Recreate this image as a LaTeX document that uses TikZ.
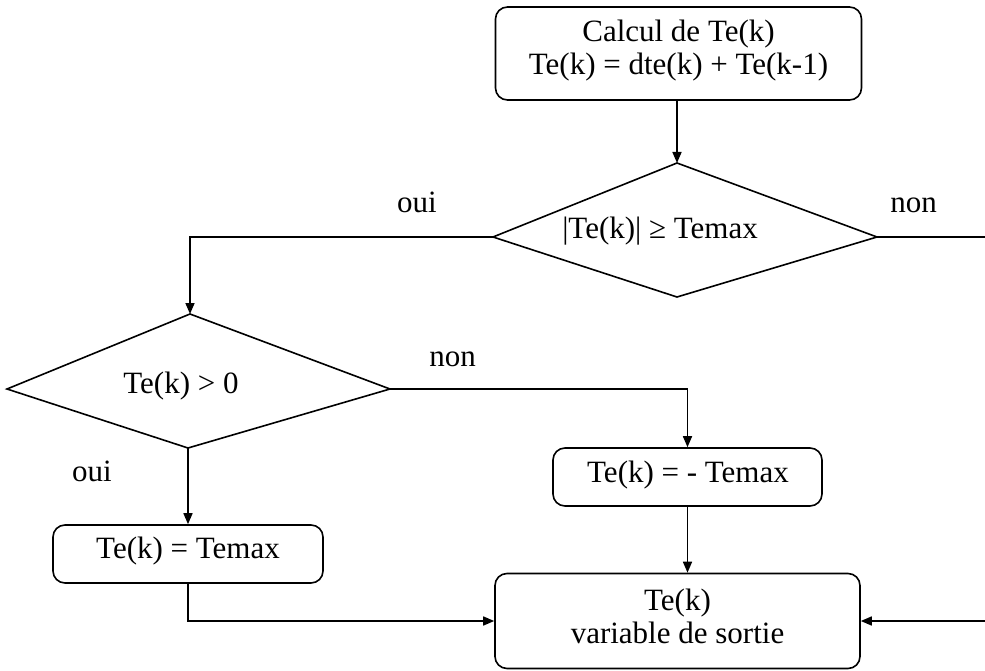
\documentclass[tikz,border=0pt]{standalone}
\usepackage{fontspec}
\setmainfont{Liberation Serif}
\usetikzlibrary{arrows.meta}
\begin{document}
\begin{tikzpicture}[x=1pt,y=-1pt,
  box/.style={draw, line width=1.6pt, rounded corners=12pt, inner sep=0pt},
  txt/.style={font=\fontsize{31}{33}\selectfont, inner sep=0pt, align=center},
  conn/.style={line width=1.6pt},
  arr/.style={conn, -{Triangle[length=11pt,width=9pt]}},
  diam/.style={draw, line width=1.6pt, line join=miter}]
\useasboundingbox (0,0) rectangle (985,671);

% boxes
\node[box, minimum width=366pt, minimum height=93pt] (b1) at (678.5,53.5) {};
\node[txt, anchor=north] (t1) at (678.5,20) {Calcul de Te(k)\\Te(k) = dte(k) + Te(k-1)};

\node[box, minimum width=270pt, minimum height=58pt] (b2) at (188,554) {};
\node[txt, anchor=base] (t2) at (188,558) {Te(k) = Temax};

\node[box, minimum width=269pt, minimum height=58pt] (b3) at (687.5,477) {};
\node[txt, anchor=base] (t3) at (688,482) {Te(k) = - Temax};

\node[box, minimum width=365pt, minimum height=95pt] (b4) at (677.5,621) {};
\node[txt, anchor=north] (t4) at (677.5,589) {Te(k)\\variable de sortie};

% diamond 1
\coordinate (d1t) at (677,163);
\coordinate (d1r) at (877,237);
\coordinate (d1b) at (677,297);
\coordinate (d1l) at (493,237);
\draw[diam] (d1t) -- (d1r) -- (d1b) -- (d1l) -- cycle;
\node[txt, anchor=base] (t5) at (660,239) {|Te(k)| ≥ Temax};

% diamond 2
\coordinate (d2t) at (190,314);
\coordinate (d2r) at (390,389);
\coordinate (d2b) at (188,448);
\coordinate (d2l) at (7,389);
\draw[diam] (d2t) -- (d2r) -- (d2b) -- (d2l) -- cycle;
\node[txt, anchor=base] (t6) at (181,393) {Te(k) > 0};

% edge coordinates
\coordinate (e1) at (985,237);
\coordinate (e2) at (985,621);

% connectors
\draw[arr] (b1.south -| d1t) -- (d1t);
\draw[arr] (d1l) -| (d2t);
\draw[conn] (d1r) -- (e1);
\draw[arr] (e2) -- (b4.east);
\draw[arr] (d2r) -| (b3.north);
\draw[arr] (d2b) -- (b2.north);
\draw[arr] (b3.south) -- (b3.south |- b4.north);
\draw[arr] (b2.south) |- (b4.west);

% labels
\node[txt, anchor=base] (l1) at (417,212) {oui};
\node[txt, anchor=base] (l2) at (913.5,212) {non};
\node[txt, anchor=base] (l3) at (452.5,366) {non};
\node[txt, anchor=base] (l4) at (92,481) {oui};
\end{tikzpicture}
\end{document}
